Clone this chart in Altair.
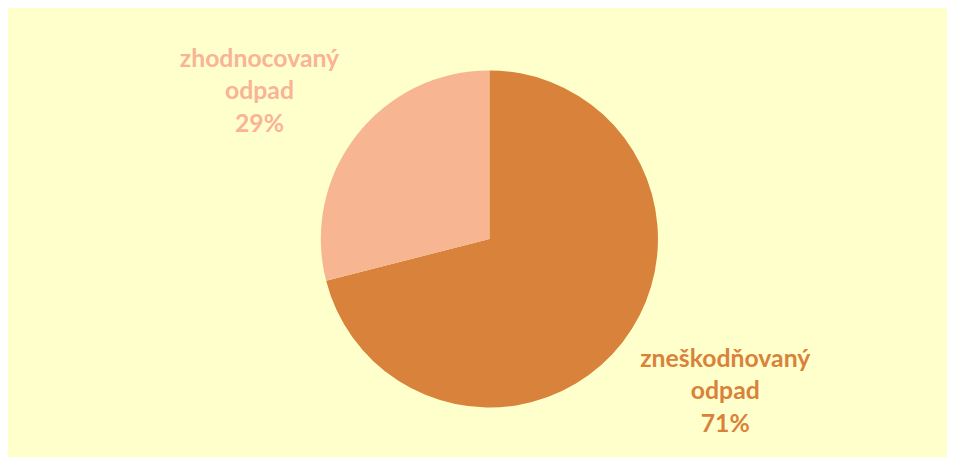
import altair as alt
import pandas as pd

categories = ["zneškodňovaný odpad", "zhodnocovaný odpad"]
shares = [71, 29]
label_lines = ["zneškodňovaný\nodpad\n71%", "zhodnocovaný\nodpad\n29%"]
colors = ["#D9823B", "#F8B592"]
text_colors = ["#D9823B", "#F9B397"]

df = pd.DataFrame({
    "kategorie": categories,
    "podil": shares,
    "popis": label_lines,
    "poradi": list(range(len(categories))),
})

theta_scale = alt.Scale(domain=[0, 100])

base = alt.Chart(df).transform_window(
    konec="sum(podil)", sort=[alt.SortField("poradi")]
).transform_calculate(
    zacatek="datum.konec - datum.podil",
    stred="datum.konec - datum.podil / 2",
)

pie = base.mark_arc(outerRadius=170, stroke=None).encode(
    theta=alt.Theta("zacatek:Q", scale=theta_scale),
    theta2="konec:Q",
    color=alt.Color("kategorie:N", scale=alt.Scale(domain=categories, range=colors), legend=None),
)

def label(idx, dx, dy):
    return base.transform_filter(
        alt.datum.kategorie == categories[idx]
    ).mark_text(
        radius=277, fontSize=25, fontWeight="bold", font="Lato",
        lineBreak="\n", lineHeight=33, align="center", baseline="middle",
        dx=dx, dy=dy, color=text_colors[idx],
    ).encode(
        theta=alt.Theta("stred:Q", scale=theta_scale),
        text="popis:N",
    )

chart = alt.layer(pie, label(0, 19, -49), label(1, -13, -12)).properties(
    width=947, height=449,
    autosize=alt.AutoSizeParams(type="fit", contains="padding"),
    padding={"left": 24, "top": 13, "right": 0, "bottom": 0},
    background="#FFFFCC",
).configure_view(stroke=None)

chart.save("out.html", embed_options={"renderer": "svg", "actions": False})
